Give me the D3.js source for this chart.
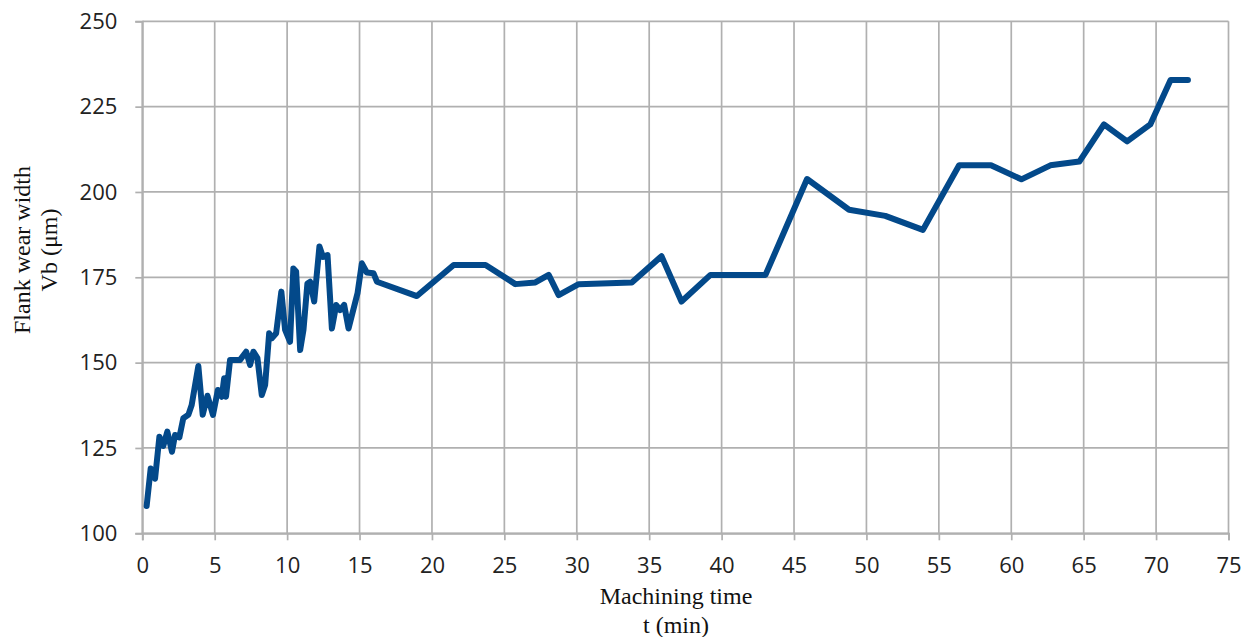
<!DOCTYPE html>
<html>
<head>
<meta charset="utf-8">
<script src="https://cdn.jsdelivr.net/npm/d3@7"></script>
<style>
  html, body { margin: 0; padding: 0; background: #fff; }
  svg { display: block; }
</style>
</head>
<body>
<svg id="chart" width="1251" height="637"></svg>
<script>
// ---- data ----
const timeMin = [0.3, 0.58, 0.88, 1.18, 1.45, 1.73, 2.05, 2.26, 2.56, 2.83, 3.18, 3.41, 3.87, 4.17, 4.5, 4.88, 5.22, 5.49, 5.65, 5.78, 6.06, 6.75, 7.17, 7.44, 7.67, 7.95, 8.25, 8.48, 8.76, 8.94, 9.24, 9.6, 9.86, 10.2, 10.43, 10.62, 10.9, 11.13, 11.4, 11.59, 11.87, 12.23, 12.47, 12.79, 13.09, 13.39, 13.66, 13.94, 14.24, 14.86, 15.16, 15.5, 15.96, 16.2, 18.96, 21.5, 23.7, 25.76, 27.14, 28.06, 28.75, 30.13, 33.8, 35.85, 37.23, 39.23, 43.03, 45.9, 48.8, 51.3, 53.9, 56.4, 58.6, 60.7, 62.7, 64.7, 66.4, 68.0, 69.6, 71.0, 72.2];
const flankWear = [108, 119, 116, 128.3, 125.6, 129.8, 123.9, 128.8, 128.1, 133.7, 134.7, 137.6, 149, 134.7, 140.3, 134.7, 142, 140, 145.4, 140, 150.8, 150.8, 153.2, 149.3, 153.2, 151.3, 140.5, 143.4, 158.6, 157.1, 158.6, 170.8, 159.6, 156.1, 177.6, 176.7, 153.7, 159.6, 173.2, 173.7, 167.9, 184, 181, 181.5, 160, 166.9, 165.4, 166.9, 160, 170.3, 179.1, 176.4, 176.2, 173.7, 169.5, 178.6, 178.6, 173, 173.5, 175.7, 169.8, 173, 173.5, 181.2, 167.9, 175.7, 175.7, 203.8, 194.8, 193, 188.9, 207.8, 207.8, 203.7, 207.8, 208.9, 219.8, 214.8, 219.8, 232.8, 232.8];
const xTicks = [0, 5, 10, 15, 20, 25, 30, 35, 40, 45, 50, 55, 60, 65, 70, 75];
const yTicks = [100, 125, 150, 175, 200, 225, 250];
const xTitleLines = ["Machining time", "t (min)"];
const yTitleLines = ["Flank wear width", "Vb (\u03bcm)"];

// ---- layout ----
const plotL = 142.3, plotR = 1228.5, plotT = 21.3, plotB = 533.3;
const svg = d3.select("#chart");
const x = d3.scaleLinear().domain([0, 75]).range([plotL, plotR]);
const y = d3.scaleLinear().domain([100, 250]).range([plotB, plotT]);
const gridColor = "#b0b0b0";

// gridlines
svg.append("g").selectAll("line").data(xTicks).join("line")
  .attr("x1", d => x(d)).attr("x2", d => x(d))
  .attr("y1", plotT).attr("y2", plotB)
  .attr("stroke", gridColor).attr("stroke-width", 1.7);
svg.append("g").selectAll("line").data(yTicks).join("line")
  .attr("x1", plotL).attr("x2", plotR)
  .attr("y1", d => y(d)).attr("y2", d => y(d))
  .attr("stroke", gridColor).attr("stroke-width", 1.7);

// axes
const xAxis = d3.axisBottom(x).tickValues(xTicks).tickSize(7).tickPadding(17).tickFormat(d3.format("d"));
const yAxis = d3.axisLeft(y).tickValues(yTicks).tickSize(7).tickPadding(18).tickFormat(d3.format("d"));
const gx = svg.append("g").attr("transform", `translate(0,${plotB})`).call(xAxis);
const gy = svg.append("g").attr("transform", `translate(${plotL},0)`).call(yAxis);
[gx, gy].forEach(g => {
  g.select(".domain").attr("stroke", gridColor).attr("stroke-width", 1.9);
  g.selectAll(".tick line").attr("stroke", gridColor).attr("stroke-width", 1.7);
  g.selectAll(".tick text")
    .attr("fill", "#222")
    .style("font-family", "'Open Sans', sans-serif")
    .style("font-size", "22px");
});

// line
const line = d3.line().x((d, i) => x(timeMin[i])).y(d => y(d));
svg.append("path")
  .datum(flankWear)
  .attr("d", line)
  .attr("fill", "none")
  .attr("stroke", "#03498a")
  .attr("stroke-width", 6)
  .attr("stroke-linejoin", "round")
  .attr("stroke-linecap", "round");

// axis titles
const xt = svg.append("text")
  .attr("x", 676).attr("y", 604)
  .attr("text-anchor", "middle")
  .style("font-family", "'Liberation Serif', 'Times New Roman', serif")
  .style("font-size", "24px").attr("fill", "#111");
xTitleLines.forEach((s, i) => xt.append("tspan").attr("x", 676).attr("dy", i ? 29 : 0).text(s));

const yt = svg.append("text")
  .attr("transform", "translate(30,250) rotate(-90)")
  .attr("text-anchor", "middle")
  .style("font-family", "'Liberation Serif', 'Times New Roman', serif")
  .style("font-size", "24px").attr("fill", "#111");
yTitleLines.forEach((s, i) => yt.append("tspan").attr("x", 0).attr("dy", i ? 27 : 0).text(s));
</script>
</body>
</html>
